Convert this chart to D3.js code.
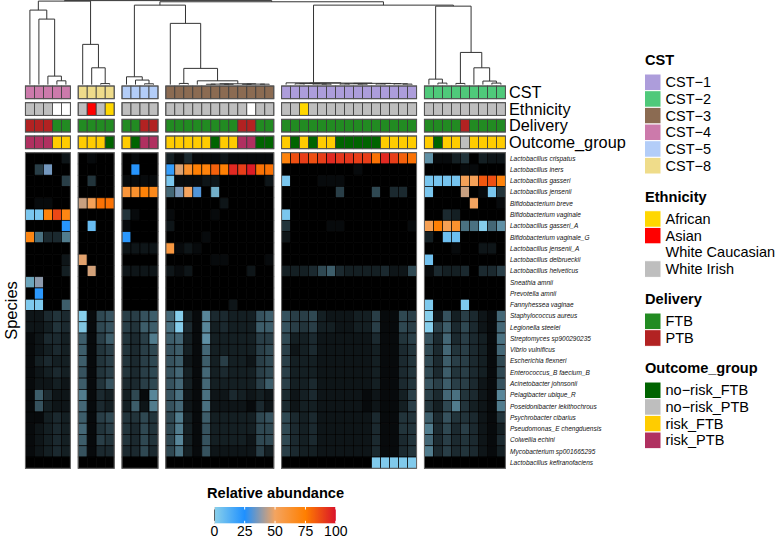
<!DOCTYPE html>
<html><head><meta charset="utf-8">
<script src="https://cdn.jsdelivr.net/npm/d3@7"></script>
<style>body{margin:0;background:#fff}svg{display:block;font-family:"Liberation Sans",Arial,sans-serif}</style>
</head><body><svg id="chart" width="776" height="539"></svg>
<script>
const species = ["Lactobacillus crispatus","Lactobacillus iners","Lactobacillus gasseri","Lactobacillus jensenii","Bifidobacterium breve","Bifidobacterium vaginale","Lactobacillus gasseri_A","Bifidobacterium vaginale_G","Lactobacillus jensenii_A","Lactobacillus delbrueckii","Lactobacillus helveticus","Sneathia amnii","Prevotella amnii","Fannyhessea vaginae","Staphylococcus aureus","Legionella steelei","Streptomyces sp900290235","Vibrio vulnificus","Escherichia flexneri","Enterococcus_B faecium_B","Acinetobacter johnsonii","Pelagibacter ubique_R","Poseidonibacter lekithochrous","Psychrobacter cibarius","Pseudomonas_E chengduensis","Colwellia echini","Mycobacterium sp001665295","Lactobacillus kefiranofaciens"];
const cstGroups = ["CST-4","CST-8","CST-5","CST-3","CST-1","CST-2"];
const groupSizes = [5,4,4,12,15,9];
const WI="White Irish", WC="White Caucasian", AF="African", AS="Asian";
const ethnicity = [WI,WI,WI,WC,WC, WI,AS,WI,AF, WI,WI,WI,WI, WI,WI,WI,WI,WI,WI,WI,WI,WI,WC,WI,WI, WI,WI,AF,WI,WI,WI,WI,WI,WI,WI,WI,WI,WI,WI,WI, WI,WI,WI,WI,WI,WI,WI,WI,WI];
const delivery = ["PTB","PTB","PTB","FTB","FTB", "FTB","FTB","FTB","FTB", "FTB","FTB","PTB","PTB", "FTB","FTB","FTB","FTB","FTB","FTB","FTB","FTB","PTB","PTB","FTB","FTB", "FTB","FTB","FTB","FTB","FTB","FTB","FTB","FTB","FTB","FTB","FTB","FTB","FTB","FTB","FTB", "FTB","FTB","FTB","FTB","PTB","FTB","FTB","FTB","FTB"];
const rF="risk_FTB", rP="risk_PTB", nF="no-risk_FTB", nP="no-risk_PTB";
const outcome = [rP,rP,rP,rF,rF, rF,rF,rF,nF, rF,nF,rP,rP, rF,rF,rF,rF,rF,nF,rF,rF,rP,rP,nF,nF, rF,nF,rF,nF,rF,rF,nF,nF,nF,nF,nF,rF,rF,rF,rF, rF,nF,rF,rF,nP,rF,rF,rF,rF];

const abundance = [
[0,0,0,0,0.1, 0,0.05,0,0, 0,0.05,0,0, 0.15,0.05,0.2,0.05,0.05,0.05,0.1,0.05,0.05,0.05,0.05,0.05, 72,86,90,86,90,95,92,92,90,90,78,95,90,82,78, 0.7,0.05,0.05,0.15,0.25,0,0.15,0.1,0.1],
[0,0.3,35,0,0, 0,0,0,0, 0,23,0,0, 20,47,63,74,72,82,74,95,90,98,78,78, 0,0,0,0,0,0,0,0,0.05,0,0,0,0,0,0, 0,0,0,0,0.05,0.05,0,0,0],
[0,0,0,0,0.3, 0,0.25,0,0, 0.05,0.05,0.05,0.05, 4,0.05,0.05,0.05,0.1,0.1,0,0,0,0,0,0.1, 4,0,0,0,0.05,0.05,0.05,0,0,0,0,0,0,0,0, 4.5,5,5,5,52,52,84,86,72],
[0,0,0,0,0, 0,0,0,0, 60,63,73,68, 0.5,36,50,31,0,0.85,0,0,0,0,0,0, 0,0,0,0,0,0,0.3,0,0,0,0.35,0,0.2,0.2,0, 4,0,0,0,45,0,0.05,4,0.25],
[0,0.05,0.05,0,0, 45,52,78,78, 0,0,0,0, 0,0,0,0,0,0,0.1,0,0,0,0,0, 0,0,0,0,0,0,0,0,0,0,0,0,0,0,0, 0,0,0,0,0,50,0,0,0.05],
[4,4,72,88,70, 0,0,0,0, 0.25,0.05,0,0, 0.05,0,0,0,0,0.05,0,0,0,0,0,0, 4,0,0,0,0,0,0,0,0,0,0,0,0,0,0, 0,0,0.2,0.15,0,0,0,0,0],
[0,0,0,0,23, 0,8,0,0, 0.05,0,0,0, 0.1,0,0,0,0,0,0,0,0,0,0,0, 0.25,0,0,0,0,0.05,0.05,0,0,0,0,0,0,0,0.05, 53,74,53,63,0.55,0.55,1.5,0.5,0.7],
[70,0.55,0.2,0.2,0.6, 0,0,0,0, 22,0,0,0, 0,0,0,0,0.05,0,0,0,0,0,0,0, 0.1,0,0,0,0,0,0,0,0,0,0,0,0,0,0, 0.15,0,7,7,0,0,0,0,0],
[0,0,0,0,0, 0,0,0,0, 0.1,0.1,0.1,0.1, 58,0.05,0.1,0.05,0,0,0,0,0,0,0,0, 0,0,0,0,0,0,0,0,0,0,0,0,0,0,0, 0,0,0,0.05,0,0,0.1,0.1,0],
[0,0,0,0,0.1, 48,0,0,0, 0,0,0,0, 0,0,0,0,0,0.05,0.05,0,0,0,0,0.05, 0,0,0,0,0,0,0,0,0,0,0,0,0,0,0, 6,0,0,0,0,0,0,0,0],
[0,0,0,0,0.15, 0,46,0,0, 0.1,0.1,0.1,0.1, 0.1,0.05,0.1,0,0,0,0,0,0,0.1,0,0, 0.15,0.15,0.15,0.2,0.35,0.45,0.2,0.15,0.15,0.15,0.15,0.2,0.1,0.1,0.35, 0.05,0.2,0.15,0.15,0.2,0,0.2,0.2,0.3],
[0.8,38,0,0,0, 0,0,0,0, 0,0,0,0, 0,0,0,0,0,0,0,0,0,0,0,0, 0,0,0,0,0,0,0,0,0,0,0,0,0,0,0, 0,0,0,0,0,0,0,0,0],
[0,22,0,0,0, 0,0,0,0, 0,0,0,0, 0,0,0,0,0,0,0,0,0,0,0,0, 0,0,0,0,0,0,0,0,0,0,0,0,0,0,0, 0,0,0,0,0,0,0,0,0],
[3,3,0,0,0.45, 0,0,0,0, 0,0,0,0, 0,0,0,0,0,0,0,0.1,0,0,0,0, 0,0,0,0,0,0,0,0,0,0,0,0,0,0,0, 3,0,0,0,3,0,0,0,0],
[0.1,0.1,0.2,0.25,0.2, 1,0.05,0.35,0.4, 0.3,0.3,0.4,0.45, 0.5,1.1,0.15,0.05,0.65,0.2,0.2,0.15,0.15,0.15,0.4,0.45, 0.4,0.3,0.3,0.35,0.15,0.1,0.1,0.1,0.15,0.15,0.3,0.05,0.05,0.35,0.3, 1,0.1,0.4,0.15,0.3,0.2,0.1,0.05,0.5],
[0.1,0.1,0.15,0.25,0.2, 0.95,0.05,0.35,0.4, 0.3,0.25,0.45,0.45, 0.55,1.2,0.2,0.05,0.65,0.15,0.2,0.15,0.15,0.15,0.45,0.45, 0.4,0.3,0.25,0.3,0.15,0.15,0.1,0.1,0.15,0.15,0.3,0.05,0.05,0.35,0.3, 1,0.3,0.45,0.2,0.35,0.2,0.1,0.05,0.5],
[0.05,0.1,0.2,0.2,0.15, 0.45,0.05,0.3,0.45, 0.25,0.2,0.3,0.6, 0.45,0.5,0.15,0.05,0.7,0.15,0.15,0.15,0.15,0.15,0.3,0.3, 0.35,0.15,0.15,0.2,0.1,0.1,0.1,0.1,0.1,0.1,0.2,0.05,0.05,0.25,0.3, 0.4,0.2,0.5,0.2,0.3,0.2,0.15,0.05,0.55],
[0.05,0.1,0.15,0.2,0.15, 0.45,0.05,0.25,0.3, 0.25,0.2,0.3,0.35, 0.4,0.45,0.15,0.05,0.5,0.15,0.15,0.15,0.15,0.15,0.3,0.35, 0.3,0.1,0.15,0.2,0.1,0.1,0.1,0.1,0.1,0.1,0.15,0.05,0.05,0.2,0.25, 0.35,0.2,0.5,0.25,0.3,0.2,0.15,0.05,0.5],
[0.05,0.15,0.2,0.15,0.15, 0.45,0.05,0.25,0.3, 0.25,0.2,0.3,0.35, 0.4,0.45,0.1,0.05,0.45,0.15,0.3,0.15,0.15,0.1,0.3,0.35, 0.3,0.15,0.15,0.15,0.1,0.1,0.1,0.1,0.1,0.1,0.15,0.05,0.05,0.2,0.25, 0.35,0.2,0.45,0.3,0.3,0.2,0.15,0.05,0.35],
[0.05,0.1,0.15,0.2,0.15, 0.4,0.05,0.25,0.3, 0.25,0.2,0.3,0.35, 0.4,0.5,0.15,0.05,0.5,0.15,0.2,0.15,0.15,0.15,0.3,0.35, 0.3,0.15,0.15,0.15,0.1,0.1,0.1,0.1,0.1,0.1,0.15,0.05,0.05,0.2,0.25, 0.35,0.2,0.45,0.25,0.3,0.2,0.15,0.05,0.35],
[0.05,0.1,0.1,0.15,0.1, 0.45,0.05,0.25,0.4, 0.2,0.2,0.3,0.35, 0.4,0.5,0.15,0.05,0.5,0.15,0.15,0.15,0.15,0.15,0.3,0.45, 0.3,0.15,0.15,0.2,0.1,0.1,0.1,0.1,0.1,0.1,0.15,0.05,0.05,0.2,0.25, 0.4,0.3,0.45,0.3,0.3,0.2,0.1,0.05,0.4],
[0.05,0.45,0.2,0.1,0.1, 0.6,0.05,0.2,0.15, 0.15,0.35,0.05,0.65, 0.4,0.55,0.1,0.05,0.55,0.1,0.1,0.2,0.15,0.1,0.15,0.1, 0.2,0.1,0.15,0.2,0.1,0.1,0.1,0.1,0.1,0.05,0.1,0.05,0.05,0.15,0.3, 0.3,0.2,0.5,0.55,0.25,0.2,0.1,0.05,0.65],
[0.05,0.4,0.15,0.1,0.1, 0.5,0.05,0.2,0.15, 0.15,0.45,0.1,0.6, 0.4,0.5,0.1,0.05,0.55,0.1,0.1,0.1,0.1,0.05,0.2,0.1, 0.2,0.1,0.15,0.15,0.1,0.1,0.1,0.1,0.1,0.05,0.1,0.05,0.05,0.15,0.3, 0.25,0.15,0.35,0.6,0.25,0.15,0.1,0.05,0.6],
[0.05,0.05,0.15,0.2,0.15, 0.45,0.05,0.3,0.35, 0.25,0.25,0.35,0.25, 0.35,0.6,0.15,0.05,0.45,0.15,0.15,0.15,0.15,0.15,0.35,0.4, 0.35,0.2,0.15,0.2,0.1,0.1,0.1,0.1,0.1,0.1,0.2,0.05,0.05,0.25,0.25, 0.45,0.2,0.4,0.25,0.25,0.2,0.1,0.05,0.25],
[0.05,0.1,0.15,0.2,0.15, 0.5,0.05,0.25,0.3, 0.25,0.2,0.35,0.25, 0.35,0.6,0.15,0.05,0.4,0.15,0.15,0.15,0.15,0.15,0.35,0.35, 0.35,0.2,0.15,0.2,0.1,0.1,0.1,0.1,0.1,0.1,0.2,0.05,0.05,0.25,0.25, 0.6,0.2,0.35,0.2,0.3,0.2,0.1,0.05,0.15],
[0.05,0.1,0.15,0.2,0.15, 0.45,0.05,0.3,0.25, 0.25,0.2,0.35,0.25, 0.35,0.65,0.15,0.05,0.4,0.15,0.15,0.15,0.15,0.1,0.35,0.35, 0.35,0.2,0.15,0.2,0.1,0.1,0.1,0.1,0.1,0.1,0.2,0.05,0.05,0.2,0.25, 0.5,0.2,0.3,0.2,0.25,0.2,0.1,0.05,0.2],
[0.05,0.1,0.15,0.2,0.15, 0.4,0.05,0.2,0.2, 0.2,0.2,0.35,0.2, 0.35,0.55,0.15,0.05,0.4,0.1,0.1,0.1,0.1,0.1,0.3,0.15, 0.3,0.2,0.15,0.15,0.1,0.1,0.1,0.1,0.1,0.1,0.2,0.05,0.05,0.2,0.25, 0.6,0.2,0.3,0.2,0.25,0.2,0.1,0.05,0.15],
[0,0,0,0,0, 0,0,0,0, 0,0,0,0, 0,0,0,0,0,0,0,0,0,0,0,0, 0,0,0,0,0,0,0,0,0,0,2.5,2.5,2.5,2.5,2.5, 0,0,0,0,0,0,0,0,0]
];

// dendrogram: [mergeHeight, left, right]; leaves are column indices
const dendG1 = [0.887, 0, [0.78, 1, [0.101, 2, [0.045, 3, 4]]]];
const dendG2 = [0.479, 5, [0.2, 6, [0.012, 7, 8]]];
const dendG3 = [0.093, 9, [0.054, 10, [0.0095, 11, 12]]];
const dendG4 = [0.729, 13, [0.193, [0.014, 14, 15], [0.045, 16, [0.0095, [0.006, [0.004,17,18],[0.004,19,20]], [0.006, [0.004,21,22],[0.005,23,24]]]]]];
const dendG5 = [0.021, 25, [0.018, [0.012, [0.01, 26, 27], [0.008, 28, [0.006,29,30]]], [0.015, [0.01, [0.008,31,32],[0.006,33,34]], [0.012, [0.008,35,36], [0.01, 37, [0.006,38,39]]]]]];
const dendG6 = [0.934, [0.065, 40, [0.018, 41, 42]], [0.383, [0.014, 43, 44], [0.2, 45, [0.042, 46, [0.018, 47, 48]]]]];
const dendrogram = [1.0, [0.994, dendG1, dendG2], [0.986, [0.946, dendG3, dendG4], [0.946, dendG5, dendG6]]];

const colorBreaks = [0, 1, 25, 50, 75, 100];
const colorStops = ["#000000", "#87ceeb", "#1e90ff", "#f4a460", "#ff7f00", "#d9132a"];
const legendTicks = [0, 25, 50, 75, 100];

const cstColors = {"CST-1":"#ad9ddb","CST-2":"#4fc97a","CST-3":"#8b6b52","CST-4":"#cc7aab","CST-5":"#b3cdf8","CST-8":"#efdc8a"};
const ethColors = {"African":"#ffd700","Asian":"#ff0000","White Caucasian":"#ffffff","White Irish":"#bebebe"};
const delColors = {"FTB":"#228b22","PTB":"#b22222"};
const outColors = {"no-risk_FTB":"#006400","no-risk_PTB":"#bebebe","risk_FTB":"#ffcc00","risk_PTB":"#b03060"};

// ---------- layout ----------
const svg = d3.select("#chart");
const cellW = 9.0, gap = 7.8, x0 = 25.4;
const nCol = groupSizes.reduce((a,b)=>a+b,0);
const colGroup = [];
groupSizes.forEach((n,g)=>{for(let i=0;i<n;i++) colGroup.push(g);});
const cst = colGroup.map(g=>cstGroups[g]);
const xBand = d3.scaleBand().domain(d3.range(nCol)).range([0, nCol*cellW]);
const xPos = i => x0 + xBand(i) + colGroup[i]*gap;
const yBand = d3.scaleBand().domain(species).range([152.7, 468.3]);
const color = d3.scaleLinear().domain(colorBreaks).range(colorStops).clamp(true);
const yDend = d3.scaleLinear().domain([0, 1]).range([84.6, 0.6]);

const groupStart = [], groupEnd = [];
let c = 0;
groupSizes.forEach((n,g)=>{ groupStart.push(xPos(c)); groupEnd.push(xPos(c+n-1)+xBand.bandwidth()); c+=n; });

// ---------- dendrogram ----------
const dg = svg.append("g").attr("stroke","#333").attr("stroke-width",1).attr("fill","none");
function drawNode(node){
  if (typeof node === "number") return {x: xPos(node)+xBand.bandwidth()/2, h: 0};
  const [h, l, r] = node;
  const L = drawNode(l), R = drawNode(r);
  const y = yDend(h);
  dg.append("path").attr("d", `M${L.x},${yDend(L.h)}V${y}H${R.x}V${yDend(R.h)}`);
  return {x: (L.x+R.x)/2, h};
}
drawNode(dendrogram);

// ---------- annotations ----------
const annots = [
  {name:"CST", values:cst, colors:cstColors, y:86},
  {name:"Ethnicity", values:ethnicity, colors:ethColors, y:102.7},
  {name:"Delivery", values:delivery, colors:delColors, y:119.3},
  {name:"Outcome_group", values:outcome, colors:outColors, y:136}
];
const annH = 12.7;
annots.forEach(a=>{
  const g = svg.append("g");
  g.selectAll("rect").data(a.values).join("rect")
    .attr("x",(d,i)=>xPos(i)).attr("y",a.y)
    .attr("width",xBand.bandwidth()).attr("height",annH)
    .attr("fill",d=>a.colors[d]).attr("stroke","#3a3a3a").attr("stroke-width",0.8);
  groupSizes.forEach((n,gi)=>{
    g.append("rect").attr("x",groupStart[gi]).attr("y",a.y).attr("width",groupEnd[gi]-groupStart[gi]).attr("height",annH)
      .attr("fill","none").attr("stroke","#555").attr("stroke-width",1);
  });
  svg.append("text").attr("x",509).attr("y",a.y+annH/2).attr("dy","0.35em")
    .attr("font-size",16.3).text(a.name);
});

// ---------- heatmap ----------
const hg = svg.append("g");
abundance.forEach((row,ri)=>{
  hg.append("g").selectAll("rect").data(row).join("rect")
    .attr("x",(d,i)=>xPos(i)).attr("y",yBand(species[ri]))
    .attr("width",xBand.bandwidth()).attr("height",yBand.bandwidth())
    .attr("fill",d=>color(d)).attr("stroke","#000").attr("stroke-width",0.7);
});
groupSizes.forEach((n,gi)=>{
  hg.append("rect").attr("x",groupStart[gi]).attr("y",yBand.range()[0]).attr("width",groupEnd[gi]-groupStart[gi])
    .attr("height",yBand.range()[1]-yBand.range()[0]).attr("fill","none").attr("stroke","#6a6a6a").attr("stroke-width",1);
});
svg.append("g").selectAll("text").data(species).join("text")
  .attr("x",510).attr("y",d=>yBand(d)+yBand.bandwidth()/2).attr("dy","0.35em")
  .attr("font-size",6.5).attr("font-style","italic").attr("fill","#111").text(d=>d);
svg.append("text").attr("transform","translate(17,310.5) rotate(-90)").attr("text-anchor","middle")
  .attr("font-size",16.5).text("Species");

// ---------- legends (right) ----------
const legends = [
  {title:"CST", y:60, items:cstGroups.slice().sort(), colors:cstColors},
  {title:"Ethnicity", y:196.7, items:Object.keys(ethColors), colors:ethColors},
  {title:"Delivery", y:299, items:Object.keys(delColors), colors:delColors},
  {title:"Outcome_group", y:368, items:Object.keys(outColors), colors:outColors}
];
const swH = 16.67;
legends.forEach(L=>{
  const g = svg.append("g");
  g.append("text").attr("x",645).attr("y",L.y).attr("dy","0.35em").attr("font-size",14.6).attr("font-weight","bold").text(L.title);
  L.items.forEach((it,i)=>{
    const y = L.y + 14 + i*swH;
    g.append("rect").attr("x",644.5).attr("y",y).attr("width",16.5).attr("height",swH)
      .attr("fill",L.colors[it]).attr("stroke","#fff").attr("stroke-width",1);
    g.append("text").attr("x",665.5).attr("y",y+swH/2).attr("dy","0.35em").attr("font-size",14.5)
      .text(it.replace("-","\u2212"));
  });
});

// ---------- color legend (bottom) ----------
const legX = d3.scaleLinear().domain([0,100]).range([214.3, 335.8]);
const defs = svg.append("defs");
const grad = defs.append("linearGradient").attr("id","abGrad").attr("x1","0%").attr("x2","100%");
d3.range(0,100.01,0.5).forEach(v=>{
  grad.append("stop").attr("offset",(v)+"%").attr("stop-color",color(v));
});
svg.append("text").attr("x",207).attr("y",493).attr("dy","0.35em").attr("font-size",14.6).attr("font-weight","bold").text("Relative abundance");
svg.append("rect").attr("x",legX(0)).attr("y",507).attr("width",legX(100)-legX(0)).attr("height",16.3).attr("fill","url(#abGrad)");
const tg = svg.append("g").attr("stroke","#fff").attr("stroke-width",1);
legendTicks.forEach(t=>{
  tg.append("line").attr("x1",legX(t)).attr("x2",legX(t)).attr("y1",507).attr("y2",509.5);
  tg.append("line").attr("x1",legX(t)).attr("x2",legX(t)).attr("y1",520.8).attr("y2",523.3);
});
svg.append("g").selectAll("text").data(legendTicks).join("text")
  .attr("x",d=>legX(d)).attr("y",531).attr("dy","0.35em").attr("text-anchor","middle").attr("font-size",14)
  .text(d=>d);
</script></body></html>
